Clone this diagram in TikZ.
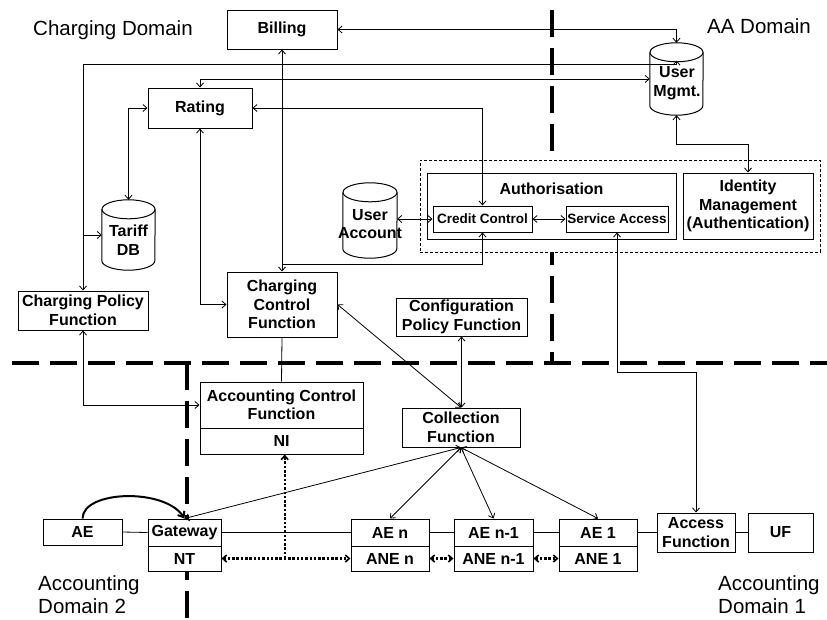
\documentclass[tikz,border=0pt]{standalone}
\usepackage{fontspec}
\setmainfont{Liberation Sans}
\usetikzlibrary{arrows.meta,calc}
\newcommand\dbshape[3]{% name, half width, ry
  \draw[line width=1pt] ($(#1.north west)+(0,#3)$) -- ($(#1.south west)+(0,-#3)$)
     arc[start angle=180,end angle=0,x radius=#2,y radius=#3] -- ($(#1.north east)+(0,#3)$);
  \draw[line width=1pt] ($(#1.north)+(0,#3)$) ellipse[x radius=#2,y radius=#3];
}
\begin{document}
\begin{tikzpicture}[x=1pt,y=-1pt,
  >={Straight Barb[length=4pt,width=7pt]},
  box/.style={draw, line width=1pt, fill=white, align=center, inner sep=0pt,
    font=\bfseries\fontsize{16}{18.5}\selectfont},
  smallbox/.style={box, font=\bfseries\fontsize{13.5}{15}\selectfont},
  dbnode/.style={draw=none, align=center, inner sep=0pt},
  btext/.style={align=center, inner sep=0pt, font=\bfseries\fontsize{16}{18.5}\selectfont},
  conn/.style={line width=0.8pt},
  dom/.style={font=\fontsize{20.5}{23}\selectfont, align=left, inner sep=0pt},
  bigdash/.style={line width=4pt, dash pattern=on 27pt off 11pt},
  dotc/.style={line width=2.2pt, dash pattern=on 2.5pt off 1.8pt,
    >={Straight Barb[length=4pt,width=7pt,line width=1.6pt]}},
]
\useasboundingbox (0,0) rectangle (827,619);

% domain boundaries
\draw[bigdash] (552,10) -- (552,363);
\draw[bigdash] (12,363) -- (827,363);
\draw[bigdash] (187,363) -- (187,619);

% domain labels
\node[dom, anchor=base west] (cdom) at (33,35) {Charging Domain};
\node[dom, anchor=base west] (aadom) at (707,33) {AA Domain};
\node[dom, anchor=north west] (ad2) at (38,575) {Accounting\\Domain 2};
\node[dom, anchor=north west] (ad1) at (718,575) {Accounting\\Domain 1};

% AA dashed frame
\node[draw, line width=0.8pt, dash pattern=on 3pt off 2pt, fill=white,
  minimum width=400, minimum height=92, inner sep=0pt] (aa) at (620,206) {};

% boxes
\node[box, minimum width=110, minimum height=39] (billing) at (282,29.5) {Billing};
\node[box, minimum width=104, minimum height=40] (rating) at (200,108) {Rating};
\node[box, minimum width=130, minimum height=39] (cpf) at (83,310.5) {Charging Policy\\Function};
\node[box, minimum width=110, minimum height=65] (ccf) at (282,304.5) {Charging\\Control\\Function};
\node[box, minimum width=131, minimum height=38] (config) at (461.5,317) {Configuration\\Policy Function};
\node[box, minimum width=249, minimum height=66] (auth) at (551.5,206) {};
\node[btext] (authlbl) at (551.5,189) {Authorisation};
\node[smallbox, minimum width=99, minimum height=26] (credit) at (482.5,219) {Credit Control};
\node[smallbox, minimum width=102, minimum height=26] (service) at (617,219) {Service Access};
\node[box, minimum width=130, minimum height=66] (idm) at (748,206) {Identity\\Management\\(Authentication)};
\node[box, minimum width=163, minimum height=46] (acf) at (281.5,405) {Accounting Control\\Function};
\node[box, minimum width=163, minimum height=26] (ni) at (281.5,441) {NI};
\node[box, minimum width=118, minimum height=39] (collection) at (461,427.5) {Collection\\Function};
\node[box, minimum width=78, minimum height=39] (access) at (696,532.5) {Access\\Function};
\node[box, minimum width=65, minimum height=39] (uf) at (780.5,532.5) {UF};
\node[box, minimum width=79, minimum height=26] (ae) at (82.5,532) {AE};
\node[box, minimum width=73, minimum height=27] (gateway) at (184.5,532.5) {Gateway};
\node[box, minimum width=73, minimum height=25] (nt) at (184.5,558.5) {NT};
\node[box, minimum width=78, minimum height=27] (aen) at (390,532.5) {AE n};
\node[box, minimum width=78, minimum height=25] (anen) at (390,558.5) {ANE n};
\node[box, minimum width=79, minimum height=27] (aen1) at (493.5,532.5) {AE n-1};
\node[box, minimum width=79, minimum height=25] (anen1) at (493.5,558.5) {ANE n-1};
\node[box, minimum width=78, minimum height=27] (ae1) at (598,532.5) {AE 1};
\node[box, minimum width=78, minimum height=25] (ane1) at (598,558.5) {ANE 1};

% databases
\node[dbnode, minimum width=53, minimum height=72] (usermgmt) at (676.5,79) {};
\dbshape{usermgmt}{26.5}{9.5}
\node[btext] (umlbl) at (677,83) {User\\Mgmt.};
\node[dbnode, minimum width=53, minimum height=70] (tariff) at (128.5,235) {};
\dbshape{tariff}{26.5}{9.5}
\node[btext] (tflbl) at (128.5,240) {Tariff\\DB};
\node[dbnode, minimum width=54, minimum height=75] (useracc) at (370,220.5) {};
\dbshape{useracc}{27}{9.5}
\node[btext] (ualbl) at (370,224) {User\\Account};

% connectors
\draw[conn,<->] (billing.east) -| (usermgmt.north);
\draw[conn,<->] (cpf.north) |- (676.5,64) -- ++(0,-3.5);
\draw[conn,->] (cpf.north |- tariff.west) -- (tariff.west);
\draw[conn,<->] (rating.north) |- (usermgmt.west);
\draw[conn,<->] (rating.east) -| (credit.north);
\draw[conn,<->] (rating.west) -| (tariff.north);
\draw[conn,<->] (rating.south) |- (ccf.west);
\draw[conn,<->] (billing.south) -- (ccf.north);
\draw[conn,->] ($(ccf.north)+(0,-7)$) -| (credit.south);
\draw[conn,<->] (useracc.east |- credit.west) -- (credit.west);
\draw[conn,<->] (credit.east) -- (service.west);
\draw[conn,<->] (usermgmt.south) -- ++(0,29) -| (idm.north);
\draw[conn,<->] (service.south) -- ++(0,140) -| (access.north);
\draw[conn] (ccf.south) -- (acf.north);
\draw[conn,<->] (cpf.south) |- (acf.west);
\draw[conn,<->] (config.south) -- (config.south |- collection.north);
\draw[conn,<->] (ccf.east) -- (collection.north);
\draw[conn,<->] (collection.south) -- (gateway.north);
\draw[conn,<->] (collection.south) -- (aen.north);
\draw[conn,<->] (collection.south) -- (aen1.north);
\draw[conn,<->] (collection.south) -- (ae1.north);

\draw[conn] (ae.east) -- (gateway.west);
\draw[conn] (gateway.east) -- (aen.west);
\draw[conn] (aen.east) -- (aen1.west);
\draw[conn] (aen1.east) -- (ae1.west);
\draw[conn] (ae1.east) -- (access.west);
\draw[conn] (access.east) -- (uf.west);

\draw[dotc,<->] (nt.east) -- (anen.west);
\draw[dotc,<->] (anen.east) -- (anen1.west);
\draw[dotc,<->] (anen1.east) -- (ane1.west);
\coordinate (dj) at ($(nt.east)!0.49!(anen.west)$);
\draw[dotc,->] (dj) -- (dj |- ni.south);

\draw[line width=2pt, ->, >={Straight Barb[length=5pt,width=8pt]}]
  (ae.north) .. controls (83,490) and (165,488) .. (gateway.north);
\end{tikzpicture}
\end{document}
